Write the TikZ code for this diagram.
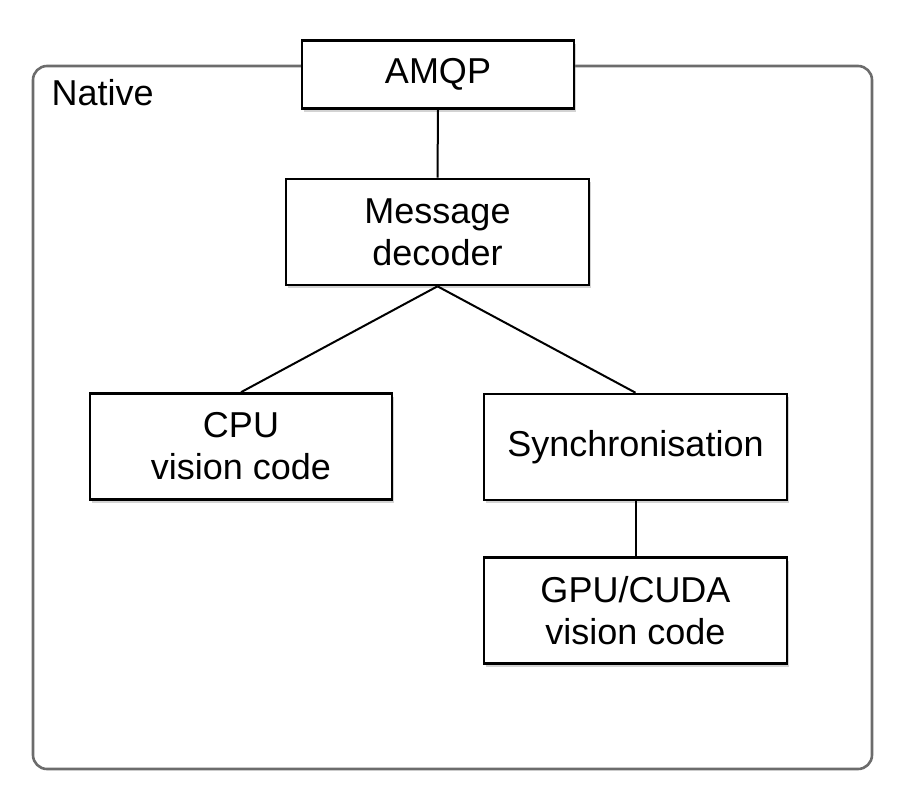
\documentclass[tikz,border=0pt]{standalone}
\usepackage{fontspec}
\setmainfont{Liberation Sans}
\usetikzlibrary{shadows}

\begin{document}
\begin{tikzpicture}
  [x=1pt, y=-1pt,
   box/.style={draw, line width=2.6pt, fill=white, align=center,
     inner sep=0pt, minimum width=303pt, minimum height=106pt,
     font=\fontsize{36}{42}\selectfont,
     drop shadow={shadow xshift=2pt, shadow yshift=-3pt, opacity=.35}}]
  \useasboundingbox (0, 0) rectangle (906, 804);
  \draw[line width=2.6pt, gray!85!black, rounded corners=14pt]
    (33, 66) rectangle (872, 769);
  \node[anchor=base west, font=\fontsize{36}{42}\selectfont] (nat) at (48, 105) {Native};

  \node[box, minimum width=272pt, minimum height=68pt] (amqp) at (438, 74.5) {AMQP};
  \node[box] (dec) at (437.5, 232) {Message\\decoder};
  \node[box, minimum width=302pt] (cpu) at (241, 446.5) {CPU\\vision code};
  \node[box] (sync) at (635.5, 447) {Synchronisation};
  \node[box] (gpu) at (635.5, 610.5) {GPU/CUDA\\vision code};

  \foreach \from/\to in {amqp/dec,dec/cpu,dec/sync,sync/gpu}
  \draw[line width=2pt] (\from.south) -- (\to.north);

\end{tikzpicture}
\end{document}
